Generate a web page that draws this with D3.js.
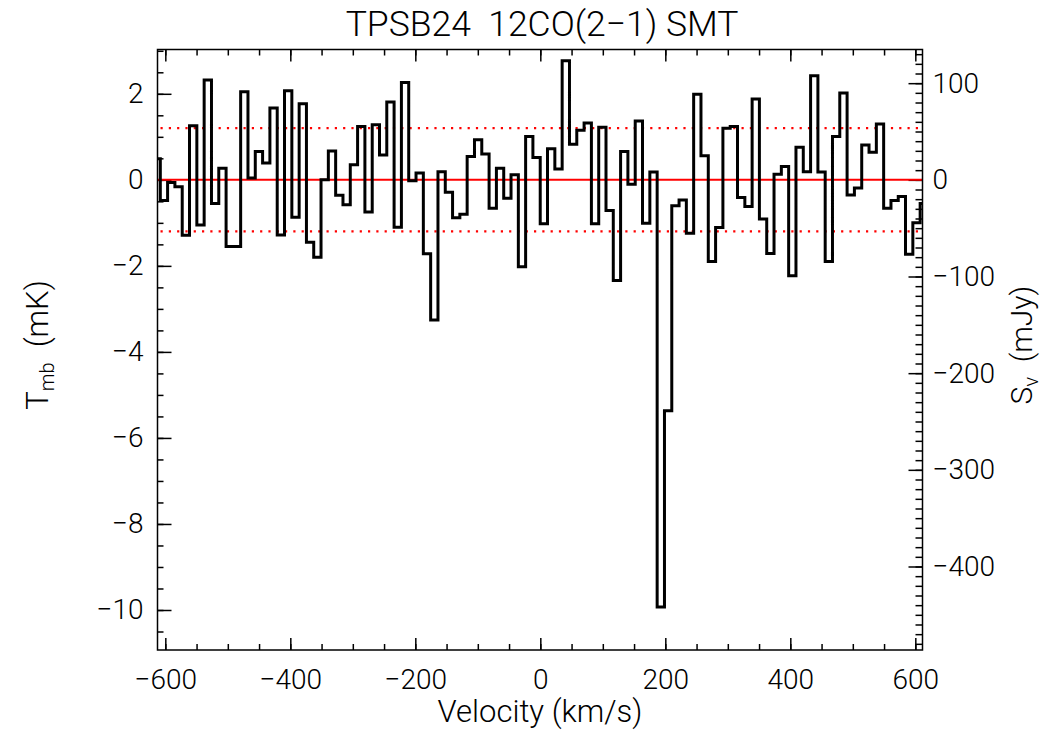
<!DOCTYPE html>
<html><head><meta charset="utf-8">
<script src="https://cdn.jsdelivr.net/npm/d3@7"></script>
<style>
body{margin:0;background:#fff;}
text{font-family:Roboto,"Liberation Sans",Arial,sans-serif;font-weight:300;fill:#000;}
</style>
</head><body>
<svg id="c" width="1050" height="750"></svg>
<script>
// channel centre velocities (km/s)
const velocity = [-613.8,-602.2,-590.5,-578.8,-567.1,-555.4,-543.7,-532.0,-520.3,-508.6,
-496.9,-485.3,-473.6,-461.9,-450.2,-438.5,-426.8,-415.1,-403.4,-391.7,
-380.0,-368.4,-356.7,-345.0,-333.3,-321.6,-309.9,-298.2,-286.5,-274.8,
-263.1,-251.5,-239.8,-228.1,-216.4,-204.7,-193.0,-181.3,-169.6,-157.9,
-146.2,-134.6,-122.9,-111.2,-99.5,-87.8,-76.1,-64.4,-52.7,-41.0,
-29.3,-17.7,-6.0,5.7,17.4,29.1,40.8,52.5,64.2,75.9,
87.6,99.3,110.9,122.6,134.3,146.0,157.7,169.4,181.1,192.8,
204.5,216.2,227.8,239.5,251.2,262.9,274.6,286.3,298.0,309.7,
321.4,333.1,344.7,356.4,368.1,379.8,391.5,403.2,414.9,426.6,
438.3,450.0,461.6,473.3,485.0,496.7,508.4,520.1,531.8,543.5,
555.2,566.9,578.5,590.2,601.9,613.6];
// main-beam temperature (mK)
const tmb = [0.49,-0.48,-0.06,-0.16,-1.29,1.26,-1.05,2.32,-0.55,0.27,
-1.55,-1.55,2.05,0.04,0.66,0.39,1.67,-1.28,2.07,-0.87,
1.77,-1.45,-1.80,0.00,0.67,-0.36,-0.58,0.35,1.24,-0.75,
1.28,0.58,1.81,-1.10,2.26,-0.02,0.16,-1.72,-3.26,0.19,
-0.29,-0.88,-0.80,0.54,0.93,0.60,-0.66,0.27,-0.43,0.12,
-2.02,1.01,0.52,-1.02,0.72,0.25,2.77,0.83,1.15,1.32,
-1.02,1.22,-0.71,-2.34,0.66,-0.10,1.37,-1.01,0.18,-9.93,
-5.37,-0.60,-0.47,-1.24,1.99,0.56,-1.90,-1.11,1.20,1.24,
-0.41,-0.62,1.88,-0.91,-1.71,0.13,0.31,-2.23,0.76,0.19,
2.42,0.18,-1.90,1.01,2.02,-0.35,-0.19,0.81,0.64,1.30,
-0.66,-0.48,-0.39,-1.73,-1.00,-0.55];
const xTicks = [-600,-400,-200,0,200,400,600];
const yTicksLeft = [-10,-8,-6,-4,-2,0,2];
const yTicksRight = [-400,-300,-200,-100,0,100];
const rmsLevel = 1.2;
const xDomain = [-612.5, 611.5];
const yDomain = [-10.93, 3.03];
const mJyPerMK = 44.5;

const svg = d3.select("#c");
const L=157.5, R=922.5, T=49.5, B=650;
const x = d3.scaleLinear().domain(xDomain).range([L,R]);
const y = d3.scaleLinear().domain(yDomain).range([B,T]);
const y2 = d3.scaleLinear().domain(yDomain.map(d=>d*mJyPerMK)).range([B,T]);
const fmt = d3.format("d");
const FONT = 'Roboto,"Liberation Sans",Arial,sans-serif';

svg.append("defs").append("clipPath").attr("id","clip")
  .append("rect").attr("x",L).attr("y",T).attr("width",R-L).attr("height",B-T);

function style(g){ g.select(".domain").remove();
  g.selectAll("line").attr("stroke","#000").attr("stroke-width",1.5);
  g.selectAll("text").style("font-size","28px").style("font-family",FONT).style("font-weight",300).attr("fill","#000");
}
const xMinor = d3.range(-600,601,50);
const yMinorL = d3.range(-10.5,3.01,0.5);
const yMinorR = d3.range(-480,131,10);

// bottom axis
svg.append("g").attr("transform",`translate(0,${B})`)
  .call(d3.axisBottom(x).tickValues(xMinor).tickSize(-6).tickFormat("")).call(style);
svg.append("g").attr("transform",`translate(0,${B})`)
  .call(d3.axisBottom(x).tickValues(xTicks).tickSize(-12).tickPadding(19).tickFormat(fmt)).call(style);
// top axis
svg.append("g").attr("transform",`translate(0,${T})`)
  .call(d3.axisTop(x).tickValues(xMinor).tickSize(-6).tickFormat("")).call(style);
svg.append("g").attr("transform",`translate(0,${T})`)
  .call(d3.axisTop(x).tickValues(xTicks).tickSize(-12).tickFormat("")).call(style);
// left axis
svg.append("g").attr("transform",`translate(${L},0)`)
  .call(d3.axisLeft(y).tickValues(yMinorL).tickSize(-6).tickFormat("")).call(style);
svg.append("g").attr("transform",`translate(${L},0)`)
  .call(d3.axisLeft(y).tickValues(yTicksLeft).tickSize(-14).tickPadding(14).tickFormat(fmt)).call(style);
// right axis
svg.append("g").attr("transform",`translate(${R},0)`)
  .call(d3.axisRight(y2).tickValues(yMinorR).tickSize(-7).tickFormat("")).call(style);
svg.append("g").attr("transform",`translate(${R},0)`)
  .call(d3.axisRight(y2).tickValues(yTicksRight).tickSize(-14).tickPadding(10).tickFormat(fmt)).call(style);

// reference lines
const plot = svg.append("g").attr("clip-path","url(#clip)");
plot.append("line").attr("x1",L).attr("x2",R).attr("y1",y(0)).attr("y2",y(0))
  .attr("stroke","#ff0000").attr("stroke-width",2);
[rmsLevel,-rmsLevel].forEach(v=>{
  plot.append("line").attr("x1",L+3).attr("x2",R).attr("y1",y(v)).attr("y2",y(v))
    .attr("stroke","#ff0000").attr("stroke-width",2.2).attr("stroke-dasharray","2.2 6.1");
});
// spectrum
const data = velocity.map((v,i)=>[v,tmb[i]]);
plot.append("path").datum(data)
  .attr("d", d3.line().x(d=>x(d[0])).y(d=>y(d[1])).curve(d3.curveStep))
  .attr("fill","none").attr("stroke","#000").attr("stroke-width",3).attr("stroke-linejoin","miter");

// frame
svg.append("rect").attr("x",L).attr("y",T).attr("width",R-L).attr("height",B-T)
  .attr("fill","none").attr("stroke","#000").attr("stroke-width",1.5);

// titles
svg.append("text").attr("x",542).attr("y",36).attr("text-anchor","middle")
  .style("font-size","35.5px").style("white-space","pre").text("TPSB24  12CO(2\u22121) SMT");
svg.append("text").attr("x",540).attr("y",722).attr("text-anchor","middle")
  .style("font-size","31px").text("Velocity (km/s)");
const yl = svg.append("text").attr("transform","translate(48,345) rotate(-90)")
  .attr("text-anchor","middle").style("font-size","31px").attr("fill","#000");
yl.append("tspan").text("T");
yl.append("tspan").attr("dy",6).style("font-size","20px").text("mb");
yl.append("tspan").attr("dy",-6).style("white-space","pre").text("  (mK)");
const yr = svg.append("text").attr("transform","translate(1032,345) rotate(-90)")
  .attr("text-anchor","middle").style("font-size","30px").attr("fill","#000");
yr.append("tspan").text("S");
yr.append("tspan").attr("dy",6).style("font-size","20px").text("\u03BD");
yr.append("tspan").attr("dy",-6).style("white-space","pre").text("  (mJy)");
</script>
</body></html>
